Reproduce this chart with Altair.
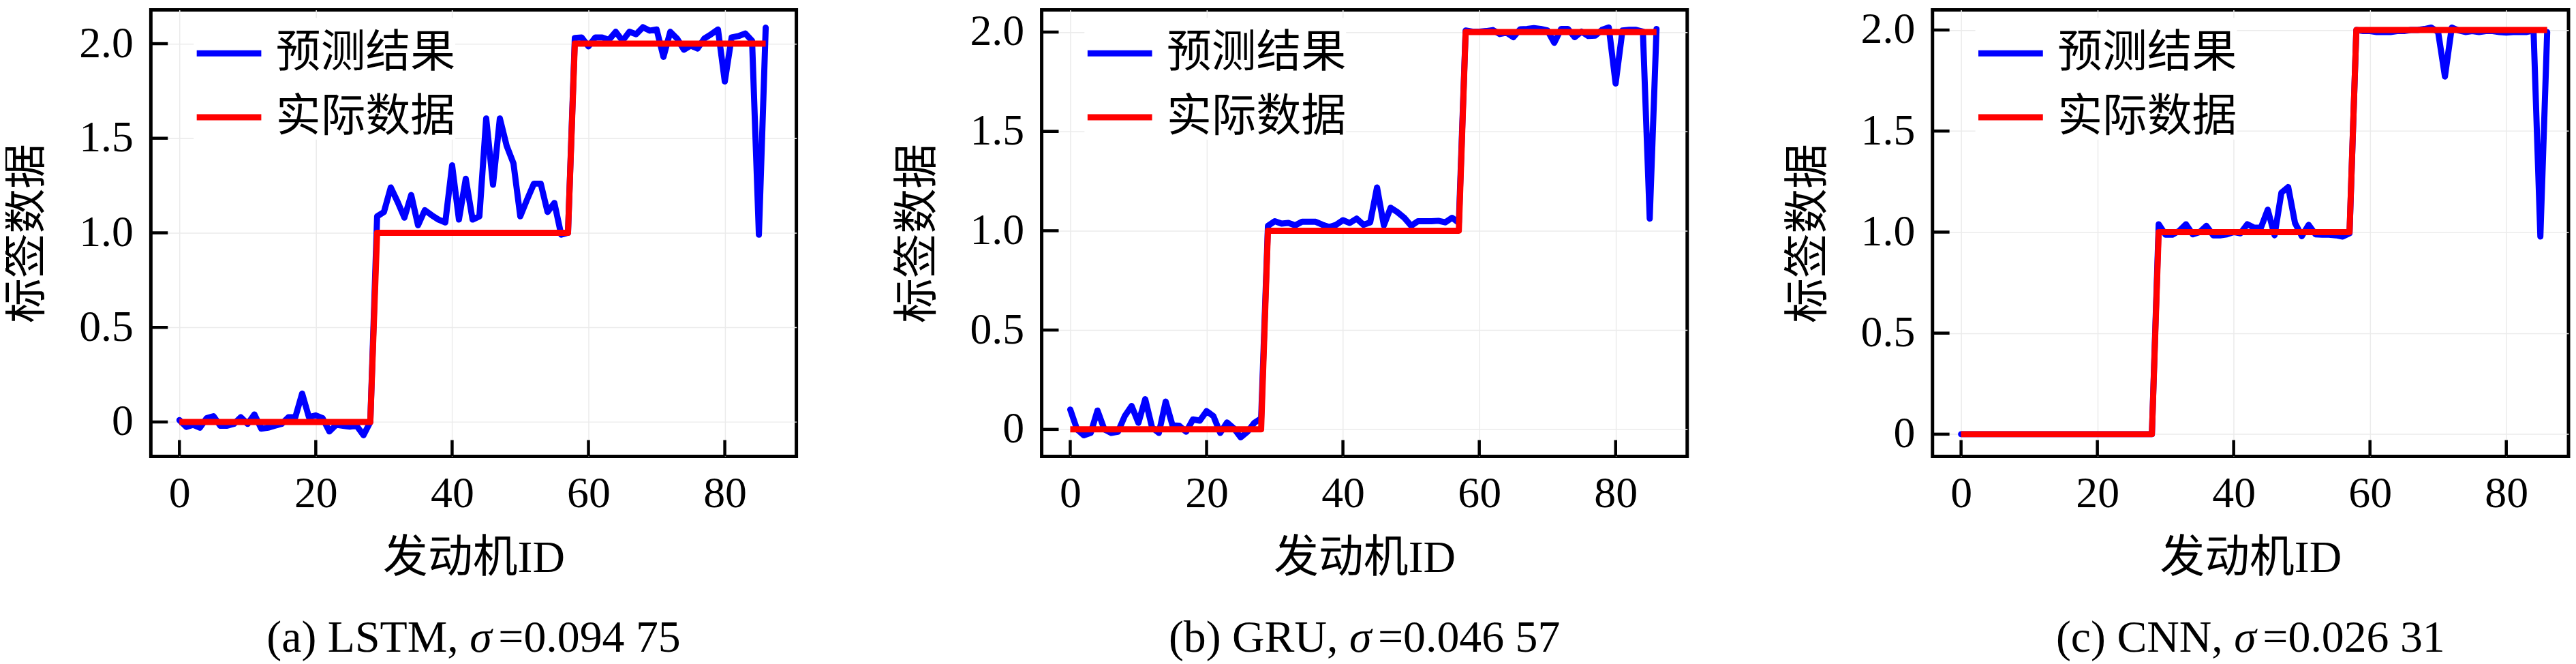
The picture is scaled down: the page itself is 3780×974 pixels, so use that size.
import altair as alt
import pandas as pd

# ---------------- data ----------------
engine_ids = list(range(87))

actual = [0, 0, 0, 0, 0, 0, 0, 0, 0, 0, 0, 0, 0, 0, 0, 0, 0, 0, 0, 0, 0, 0, 0, 0, 0, 0, 0, 0, 0,
          1, 1, 1, 1, 1, 1, 1, 1, 1, 1, 1, 1, 1, 1, 1, 1, 1, 1, 1, 1, 1, 1, 1, 1, 1, 1, 1, 1, 1,
          2, 2, 2, 2, 2, 2, 2, 2, 2, 2, 2, 2, 2, 2, 2, 2, 2, 2, 2, 2, 2, 2, 2, 2, 2, 2, 2, 2, 2]

lstm_pred = [0.01, -0.026, -0.015, -0.03, 0.02, 0.03, -0.02, -0.02, -0.01, 0.025,
             -0.01, 0.04, -0.035, -0.03, -0.02, -0.01, 0.025, 0.025, 0.15, 0.025,
             0.035, 0.02, -0.05, -0.015, -0.02, -0.025, -0.02, -0.07, 0.0,
             1.087, 1.11, 1.24, 1.164, 1.08, 1.2, 1.04, 1.12, 1.093, 1.07,
             1.055, 1.357, 1.07, 1.286, 1.07, 1.087, 1.605, 1.254, 1.605, 1.46,
             1.367, 1.087, 1.176, 1.26, 1.26, 1.11, 1.158, 0.99, 1.0,
             2.03, 2.033, 1.986, 2.033, 2.033, 2.02, 2.063, 2.015, 2.063, 2.05,
             2.087, 2.069, 2.075, 1.93, 2.063, 2.027, 1.968, 1.99, 1.974, 2.027,
             2.05, 2.075, 1.80, 2.033, 2.04, 2.054, 2.015, 0.99, 2.085]

gru_pred = [0.10, 0.0, -0.03, -0.018, 0.095, 0.0, -0.018, -0.012, 0.067, 0.118,
            0.033, 0.152, 0.01, -0.018, 0.14, 0.02, 0.018, -0.012, 0.05, 0.044,
            0.092, 0.067, -0.018, 0.035, 0.005, -0.04, -0.012, 0.033, 0.055,
            1.025, 1.048, 1.036, 1.039, 1.027, 1.045, 1.045, 1.045, 1.03, 1.019,
            1.03, 1.053, 1.039, 1.061, 1.03, 1.042, 1.218, 1.027, 1.116, 1.093,
            1.065, 1.025, 1.048, 1.048, 1.048, 1.05, 1.042, 1.065, 1.04,
            2.008, 2.002, 2.002, 2.005, 2.01, 1.99, 1.997, 1.974, 2.014, 2.016,
            2.02, 2.016, 2.008, 1.946, 2.016, 2.016, 1.974, 2.002, 1.98, 1.982,
            2.011, 2.023, 1.741, 2.008, 2.011, 2.011, 2.002, 1.061, 2.016]

cnn_pred = [0.0, 0.0, 0.0, 0.0, 0.0, 0.0, 0.0, 0.0, 0.0, 0.0,
            0.0, 0.0, 0.0, 0.0, 0.0, 0.0, 0.0, 0.0, 0.0, 0.0,
            0.0, 0.0, 0.0, 0.0, 0.0, 0.0, 0.0, 0.0, 0.0,
            1.039, 0.987, 0.987, 1.006, 1.039, 0.989, 1.0, 1.031, 0.984, 0.984,
            0.989, 1.0, 0.994, 1.039, 1.022, 1.022, 1.111, 0.984, 1.195, 1.223,
            1.045, 0.98, 1.036, 0.989, 0.987, 0.987, 0.984, 0.978, 0.994,
            2.0, 1.995, 1.995, 1.99, 1.99, 1.99, 1.995, 1.995, 2.0, 2.0,
            2.005, 2.012, 1.99, 1.77, 2.012, 1.998, 1.99, 1.995, 1.99, 1.995,
            1.995, 1.99, 1.987, 1.99, 1.99, 1.99, 1.998, 0.978, 1.99]

series_names = ["预测结果", "实际数据"]
series_colors = ["#0000ff", "#ff0000"]
x_ticks = [0, 20, 40, 60, 80]
y_ticks = [0, 0.5, 1.0, 1.5, 2.0]

model_labels = ["(a) LSTM,", "(b) GRU,", "(c) CNN,"]
sigma_values = ["=0.094 75", "=0.046 57", "=0.026 31"]

# ---------------- styling ----------------
SERIF = "Liberation Serif, Times New Roman, serif"
MIXED = "Liberation Serif, Noto Sans CJK SC, serif"
H = 657
CAP_FS = 66

# Times-like advance widths (em) used only to centre the caption pieces
TW = {" ": 0.25, "(": 0.333, ")": 0.333, "a": 0.444, "b": 0.5, "c": 0.444, "L": 0.611,
      "S": 0.556, "T": 0.611, "M": 0.889, "G": 0.722, "R": 0.667, "U": 0.722, "C": 0.667,
      "N": 0.722, ",": 0.25, "=": 0.564, ".": 0.25}


def tw(s):
    return sum(TW.get(ch, 0.5) for ch in s) * CAP_FS


panel_cfg = [
    dict(pred=lstm_pred, width=950, xdom=[-4.19, 90.5], ydom=[-0.182, 2.179]),
    dict(pred=gru_pred, width=950, xdom=[-4.19, 90.5], ydom=[-0.136, 2.112]),
    dict(pred=cnn_pred, width=936, xdom=[-4.19, 89.13], ydom=[-0.110, 2.100]),
]


def make_panel(k):
    cfg = panel_cfg[k]
    W = cfg["width"]
    df_pred = pd.DataFrame({"id": engine_ids, "v": cfg["pred"], "series": series_names[0]})
    df_act = pd.DataFrame({"id": engine_ids, "v": actual, "series": series_names[1]})
    xscale = alt.Scale(domain=cfg["xdom"], nice=False, zero=False)
    yscale = alt.Scale(domain=cfg["ydom"], nice=False, zero=False)
    xaxis = alt.Axis(values=x_ticks, title="发动机ID", titleFont=MIXED, titleFontSize=66,
                     titleFontWeight="normal", titleColor="black", titleBaseline="middle",
                     titleY=150, labelFont=SERIF, labelFontSize=64, labelColor="black",
                     labelPadding=23, labelFlush=False, labelOverlap=False, ticks=False,
                     tickSize=0, domain=False, grid=True, gridColor="#ebebeb", gridWidth=1.5)
    yaxis = alt.Axis(values=y_ticks, title="标签数据", titleFont=MIXED, titleFontSize=66,
                     titleFontWeight="normal", titleColor="black", titleBaseline="middle",
                     titleAlign="center", titleAngle=270, titleX=-183, titleY=H / 2,
                     labelFont=SERIF, labelFontSize=64, labelColor="black", labelPadding=26,
                     labelFlush=False, labelOverlap=False, ticks=False, tickSize=0, domain=False,
                     grid=True, gridColor="#ebebeb", gridWidth=1.5,
                     labelExpr="datum.value == 0 ? '0' : format(datum.value, '.1f')")
    color_scale = alt.Scale(domain=series_names, range=series_colors)
    legend = alt.Legend(title=None, orient="none", legendX=63, legendY=12, symbolType="stroke",
                        symbolStrokeWidth=9, symbolSize=9025, labelFont=MIXED, labelFontSize=66,
                        labelColor="black", labelOffset=17, rowPadding=9, padding=0,
                        fillColor="white", direction="vertical", labelLimit=0)
    color = alt.Color("series:N", scale=color_scale, legend=legend, sort=series_names)

    pred_line = alt.Chart(df_pred).mark_line(strokeWidth=9, strokeJoin="round", strokeCap="round").encode(
        x=alt.X("id:Q", scale=xscale, axis=xaxis),
        y=alt.Y("v:Q", scale=yscale, axis=yaxis),
        color=color,
    )
    actual_line = alt.Chart(df_act).mark_line(strokeWidth=9, strokeJoin="round", strokeCap="butt").encode(
        x=alt.X("id:Q", scale=xscale, axis=xaxis),
        y=alt.Y("v:Q", scale=yscale, axis=yaxis),
        color=color,
    )
    xt = alt.Chart(pd.DataFrame({"tick": x_ticks})).mark_rule(color="black", strokeWidth=4.5).encode(
        x=alt.X("tick:Q", scale=xscale, axis=xaxis),
        y=alt.value(H), y2=alt.value(H - 24),
    )
    yt = alt.Chart(pd.DataFrame({"tick": y_ticks})).mark_rule(color="black", strokeWidth=4.5).encode(
        y=alt.Y("tick:Q", scale=yscale, axis=yaxis),
        x=alt.value(0), x2=alt.value(25),
    )

    # caption with italic sigma
    lab, val = model_labels[k], sigma_values[k]
    sp = tw(" ")
    ws = 0.52 * CAP_FS
    gap = 0.12 * CAP_FS
    total = tw(lab) + sp + ws + gap + tw(val)
    start = W / 2 - total / 2
    xa = start + tw(lab)
    cap_y = 924.5
    cap_a = alt.Chart(pd.DataFrame({"t": [lab]})).mark_text(
        align="right", baseline="middle", font=SERIF, fontSize=CAP_FS, color="black").encode(
        text="t:N", x=alt.value(xa), y=alt.value(cap_y))
    cap_s = alt.Chart(pd.DataFrame({"t": ["σ"]})).mark_text(
        align="left", baseline="middle", font=SERIF, fontStyle="italic", fontSize=CAP_FS,
        color="black").encode(text="t:N", x=alt.value(xa + sp), y=alt.value(cap_y))
    cap_c = alt.Chart(pd.DataFrame({"t": [val]})).mark_text(
        align="left", baseline="middle", font=SERIF, fontSize=CAP_FS, color="black").encode(
        text="t:N", x=alt.value(xa + sp + ws + gap), y=alt.value(cap_y))

    return alt.layer(pred_line, actual_line, xt, yt, cap_a, cap_s, cap_c).properties(width=W, height=H)


chart = alt.hconcat(make_panel(0), make_panel(1), make_panel(2), spacing=139).resolve_scale(
    color="independent").resolve_legend(color="independent").configure_view(
    stroke="black", strokeWidth=5).properties(
    padding={"left": -5, "top": 0, "right": 0, "bottom": 0}, background="white")

chart.save("out.html", embed_options={"renderer": "svg", "actions": False})
